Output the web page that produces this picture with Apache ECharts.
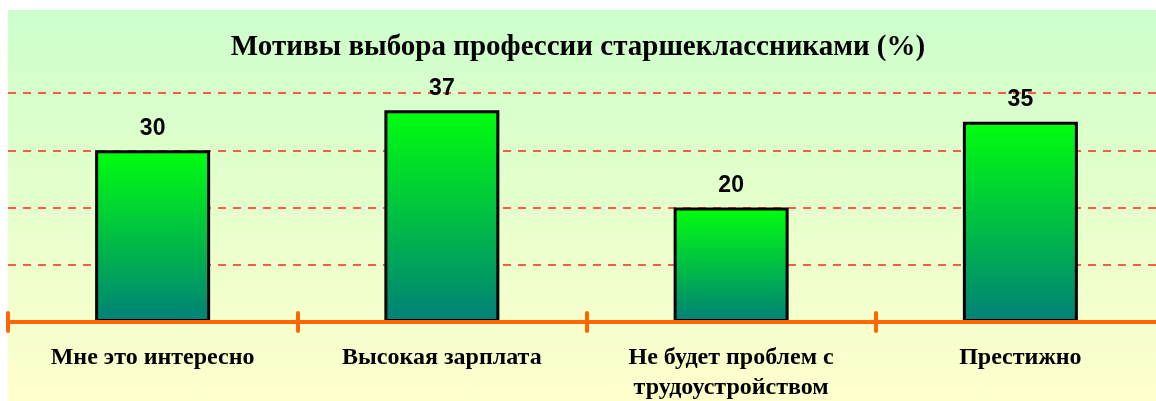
<!DOCTYPE html>
<html>
<head>
<meta charset="utf-8">
<script src="https://cdn.jsdelivr.net/npm/echarts@6/dist/echarts.min.js"></script>
<style>
html,body{margin:0;padding:0;background:#fff;}
#c{width:1156px;height:401px;}
</style>
</head>
<body>
<div id="c"></div>
<script>
const titleText = 'Мотивы выбора профессии старшеклассниками (%)';
const categories = ['Мне это интересно', 'Высокая зарплата', 'Не будет проблем с\nтрудоустройством', 'Престижно'];
const values = [30, 37, 20, 35];
const yTicks = [0, 10, 20, 30, 40];

const chart = echarts.init(document.getElementById('c'), null, {renderer: 'canvas'});
const serif = '"Liberation Serif", "Times New Roman", serif';
const sans = '"Liberation Sans", Arial, sans-serif';

chart.setOption({
  animation: false,
  backgroundColor: 'transparent',
  graphic: [{
    type: 'rect', z: -10, silent: true,
    shape: {x: 8, y: 10, width: 1148, height: 391},
    style: {fill: new echarts.graphic.LinearGradient(0, 0, 0, 1, [
      {offset: 0, color: '#ccffcc'},
      {offset: 1, color: '#ffffcc'}
    ])}
  }],
  title: {
    text: titleText, left: 'center', top: 28,
    textStyle: {fontFamily: serif, fontWeight: 'bold', fontSize: 29, color: '#000'}
  },
  grid: {left: 8, right: -9, top: 93, bottom: 79, outerBoundsMode: 'none', containLabel: false},
  xAxis: [{
    type: 'category', data: categories, position: 'bottom',
    axisLine: {show: true, lineStyle: {color: '#ff6600', width: 4}},
    axisTick: {show: true, alignWithLabel: false, length: 9, inside: false, lineStyle: {color: '#ff6600', width: 4, cap: 'round'}},
    axisLabel: {show: true, margin: 21, interval: 0, fontFamily: serif, fontWeight: 'bold', fontSize: 24, color: '#000', lineHeight: 30},
    z: 5
  }, {
    type: 'category', data: categories, position: 'bottom',
    axisLine: {show: false},
    axisTick: {show: true, length: 9, inside: true, lineStyle: {color: '#ff6600', width: 4, cap: 'round'}},
    axisLabel: {show: false},
    z: 5
  }],
  yAxis: {
    type: 'value', min: yTicks[0], max: yTicks[yTicks.length - 1], interval: 10,
    axisLine: {show: false}, axisTick: {show: false}, axisLabel: {show: false},
    splitLine: {show: true, lineStyle: {color: '#ff2a1a', width: 1.5, type: [8, 7]}}
  },
  series: [{
    type: 'bar', data: values, barWidth: 115, xAxisIndex: 0,
    itemStyle: {
      color: new echarts.graphic.LinearGradient(0, 0, 0, 1, [
        {offset: 0, color: '#00ff0d'},
        {offset: 1, color: '#008078'}
      ]),
      borderColor: '#000', borderWidth: 3
    },
    label: {show: true, position: 'top', distance: 10, fontFamily: sans, fontWeight: 'bold', fontSize: 23, color: '#000'}
  }]
});
</script>
</body>
</html>
